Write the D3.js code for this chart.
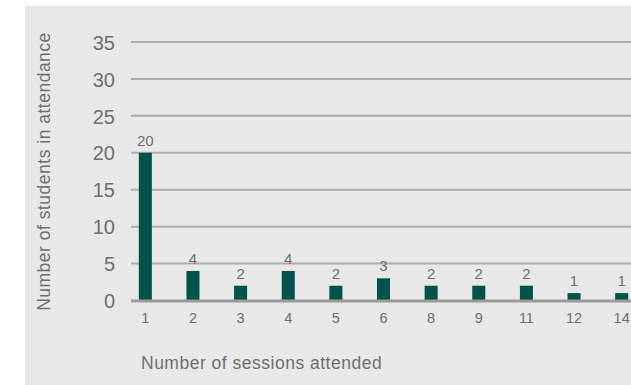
<!DOCTYPE html>
<html>
<head>
<meta charset="utf-8">
<script src="https://cdn.jsdelivr.net/npm/d3@7"></script>
<style>
  body { margin: 0; background: #fff; }
  text { font-family: "Liberation Sans", Arial, sans-serif; fill: #6e6e6e; }
</style>
</head>
<body>
<div id="chart"></div>
<script>
// Data
const sessions = ['1', '2', '3', '4', '5', '6', '8', '9', '11', '12', '14'];
const students = [20, 4, 2, 4, 2, 3, 2, 2, 2, 1, 1];
const yTicks = [0, 5, 10, 15, 20, 25, 30, 35];

const width = 631;
const height = 385;

const svg = d3
  .select('#chart')
  .append('svg')
  .attr('width', width)
  .attr('height', height);

// grey panel
svg.append('rect')
  .attr('x', 25)
  .attr('y', 6)
  .attr('width', width - 25)
  .attr('height', height - 6)
  .attr('fill', '#e8e8e8');

const xScale = d3.scaleBand(sessions, [121.5, 645.5]).paddingInner(0.727).paddingOuter(0.3635);
const yScale = d3.scaleLinear([0, 35], [300.5, 42]);

// gridlines
svg.append('g')
  .selectAll('line')
  .data(yTicks.filter((d) => d > 0))
  .join('line')
  .attr('x1', 131)
  .attr('x2', width)
  .attr('y1', (d) => yScale(d))
  .attr('y2', (d) => yScale(d))
  .attr('stroke', '#acacac')
  .attr('stroke-width', 2);

// y tick labels
const yAxis = d3.axisLeft(yScale).tickValues(yTicks).tickSize(0).tickPadding(0);
const yg = svg.append('g')
  .attr('transform', 'translate(115, 0)')
  .call(yAxis);
yg.select('.domain').remove();
yg.selectAll('text')
  .attr('dy', '0.36em')
  .style('font-size', '20px')
  .style('fill', '#6e6e6e');

// bars
svg.append('g')
  .selectAll('rect')
  .data(sessions)
  .join('rect')
  .attr('x', (d) => xScale(d))
  .attr('y', (d, i) => yScale(students[i]))
  .attr('width', xScale.bandwidth())
  .attr('height', (d, i) => yScale(0) - yScale(students[i]))
  .attr('fill', '#00524a');

// baseline
svg.append('line')
  .attr('x1', 131)
  .attr('x2', width)
  .attr('y1', yScale(0) + 0.5)
  .attr('y2', yScale(0) + 0.5)
  .attr('stroke', '#9a9a9a')
  .attr('stroke-width', 3);

// value labels
svg.append('g')
  .selectAll('text')
  .data(sessions)
  .join('text')
  .attr('x', (d) => xScale(d) + xScale.bandwidth() / 2)
  .attr('y', (d, i) => yScale(students[i]) - 7)
  .attr('text-anchor', 'middle')
  .style('font-size', '15px')
  .text((d, i) => students[i]);

// x tick labels
const xAxis = d3.axisBottom(xScale).tickSize(0).tickPadding(0);
const xg = svg.append('g')
  .attr('transform', 'translate(0, 312.5)')
  .call(xAxis);
xg.select('.domain').remove();
xg.selectAll('text')
  .attr('dy', '0.71em')
  .style('font-size', '14.5px')
  .style('fill', '#6e6e6e');

// axis names
svg.append('text')
  .attr('x', 141)
  .attr('y', 369)
  .style('font-size', '17.5px')
  .style('letter-spacing', '0.5px')
  .text('Number of sessions attended');

svg.append('text')
  .attr('transform', 'translate(50, 171.5) rotate(-90)')
  .attr('text-anchor', 'middle')
  .style('font-size', '17.5px')
  .style('letter-spacing', '0.5px')
  .text('Number of students in attendance');
</script>
</body>
</html>
